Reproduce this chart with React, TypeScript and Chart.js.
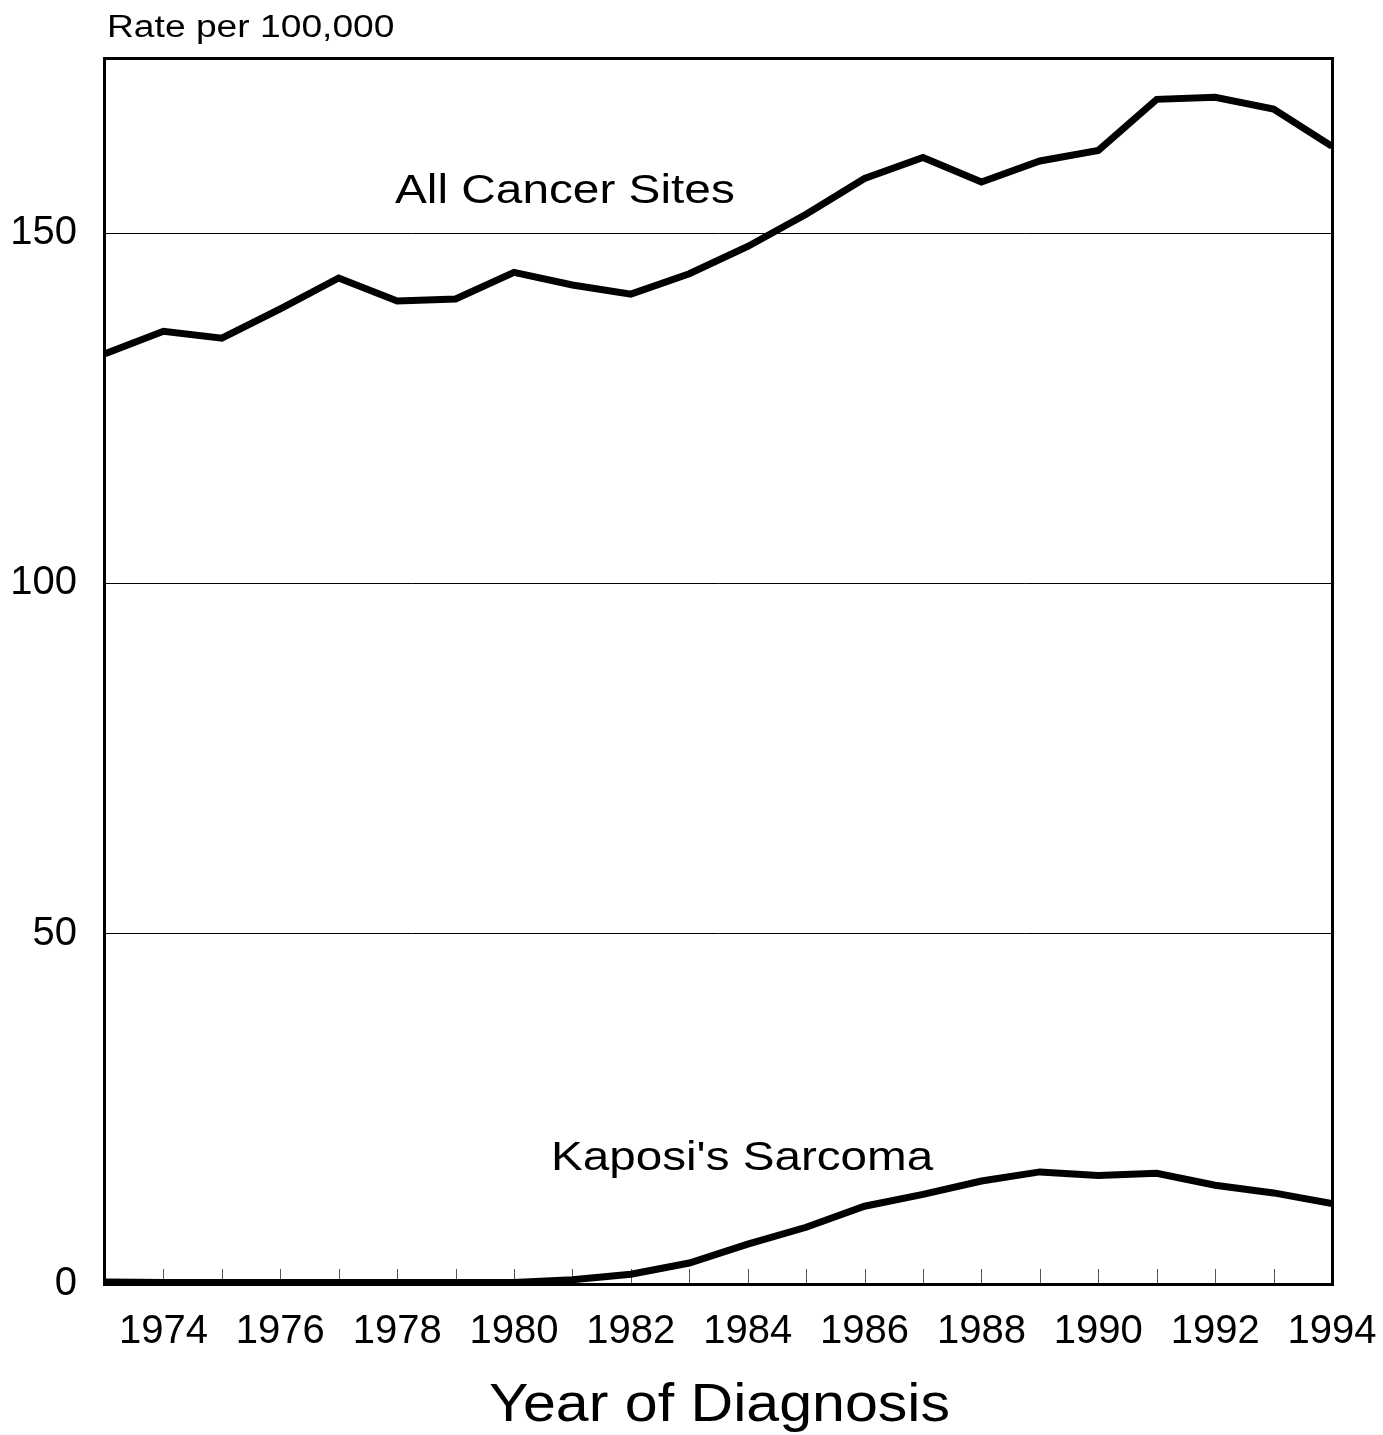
import React, { useEffect, useRef } from "react";
import { Chart, registerables } from "chart.js";

Chart.register(...registerables);

const years = [1973, 1974, 1975, 1976, 1977, 1978, 1979, 1980, 1981, 1982, 1983, 1984, 1985, 1986, 1987, 1988, 1989, 1990, 1991, 1992, 1993, 1994];
const allCancerSites = [132.8, 136.0, 135.0, 139.2, 143.6, 140.3, 140.6, 144.4, 142.6, 141.3, 144.2, 148.1, 152.7, 157.8, 160.8, 157.3, 160.3, 161.8, 169.1, 169.4, 167.7, 162.4];
const kaposiSarcoma = [0.3, 0.2, 0.2, 0.2, 0.2, 0.2, 0.2, 0.2, 0.6, 1.4, 3.0, 5.7, 8.1, 11.1, 12.8, 14.7, 16.0, 15.5, 15.8, 14.1, 13.0, 11.5];
const yTicks = [0, 50, 100, 150];
const xLabelYears = [1974, 1976, 1978, 1980, 1982, 1984, 1986, 1988, 1990, 1992, 1994];

const FONT = "'Liberation Sans', Arial, Helvetica, sans-serif";

function drawStretched(ctx: CanvasRenderingContext2D, text: string, x: number, y: number, size: number, sx: number, align: CanvasTextAlign = "left") {
  ctx.save();
  ctx.font = `${size}px ${FONT}`;
  ctx.fillStyle = "#000";
  ctx.textBaseline = "alphabetic";
  ctx.textAlign = align;
  ctx.translate(x, y);
  ctx.scale(sx, 1);
  ctx.fillText(text, 0, 0);
  ctx.restore();
}

const decorPlugin = {
  id: "decor",
  beforeDatasetsDraw(chart: any) {
    const { ctx, chartArea, scales } = chart;
    const x = scales.x;
    ctx.save();
    ctx.strokeStyle = "#555";
    ctx.lineWidth = 1;
    for (const yr of years) {
      const px = Math.round(x.getPixelForValue(yr)) + 0.5;
      ctx.beginPath();
      ctx.moveTo(px, chartArea.bottom);
      ctx.lineTo(px, chartArea.bottom - 15);
      ctx.stroke();
    }
    ctx.restore();
  },
  afterDraw(chart: any) {
    const { ctx, chartArea } = chart;
    ctx.save();
    ctx.strokeStyle = "#000";
    ctx.lineWidth = 3;
    ctx.strokeRect(chartArea.left - 0.5, chartArea.top + 0.5, chartArea.right - chartArea.left + 1, chartArea.bottom - chartArea.top);
    ctx.restore();
    drawStretched(ctx, "Rate per 100,000", 107, 37, 31, 1.2);
    drawStretched(ctx, "All Cancer Sites", 395, 203, 41, 1.165);
    drawStretched(ctx, "Kaposi's Sarcoma", 551, 1170, 40, 1.19);
    drawStretched(ctx, "Year of Diagnosis", 489, 1421, 53, 1.115);
  },
};

export default function App() {
  const ref = useRef<HTMLCanvasElement | null>(null);
  useEffect(() => {
    if (!ref.current) return;
    const chart = new Chart(ref.current, {
      type: "line",
      data: {
        datasets: [
          {
            label: "All Cancer Sites",
            data: years.map((yr, i) => ({ x: yr, y: allCancerSites[i] })),
            borderColor: "#000",
            borderWidth: 7,
            pointRadius: 0,
            tension: 0,
            fill: false,
          },
          {
            label: "Kaposi's Sarcoma",
            data: years.map((yr, i) => ({ x: yr, y: kaposiSarcoma[i] })),
            borderColor: "#000",
            borderWidth: 7,
            pointRadius: 0,
            tension: 0,
            fill: false,
          },
        ],
      },
      options: {
        animation: false,
        responsive: false,
        layout: { padding: { top: 58, right: 51, left: 0, bottom: 0 } },
        plugins: { legend: { display: false }, tooltip: { enabled: false }, title: { display: false } },
        scales: {
          x: {
            type: "linear",
            min: 1973,
            max: 1994,
            afterBuildTicks: (scale: any) => {
              scale.ticks = xLabelYears.map((v) => ({ value: v }));
            },
            afterFit: (scale: any) => {
              scale.height = 151;
              scale.paddingLeft = 0;
              scale.paddingRight = 0;
            },
            grid: { display: false, drawTicks: false },
            border: { display: false },
            ticks: {
              autoSkip: false,
              maxRotation: 0,
              padding: 24,
              color: "#000",
              font: { family: FONT, size: 40 },
              callback: (v: any) => String(v),
            },
          },
          y: {
            min: 0,
            max: 175,
            afterBuildTicks: (scale: any) => {
              scale.ticks = yTicks.map((v) => ({ value: v }));
            },
            afterFit: (scale: any) => {
              scale.width = 105;
              scale.paddingTop = 0;
              scale.paddingBottom = 0;
            },
            grid: { color: "#000", lineWidth: 1, drawTicks: false },
            border: { display: false },
            ticks: {
              padding: 28,
              color: "#000",
              font: { family: FONT, size: 40 },
              callback: (v: any) => String(v),
            },
          },
        },
      },
      plugins: [decorPlugin],
    } as any);
    return () => chart.destroy();
  }, []);
  return (
    <div style={{ position: "absolute", left: 0, top: 0, width: 1383, height: 1435, background: "#fff" }}>
      <canvas ref={ref} width={1383} height={1435} style={{ display: "block" }} />
    </div>
  );
}
